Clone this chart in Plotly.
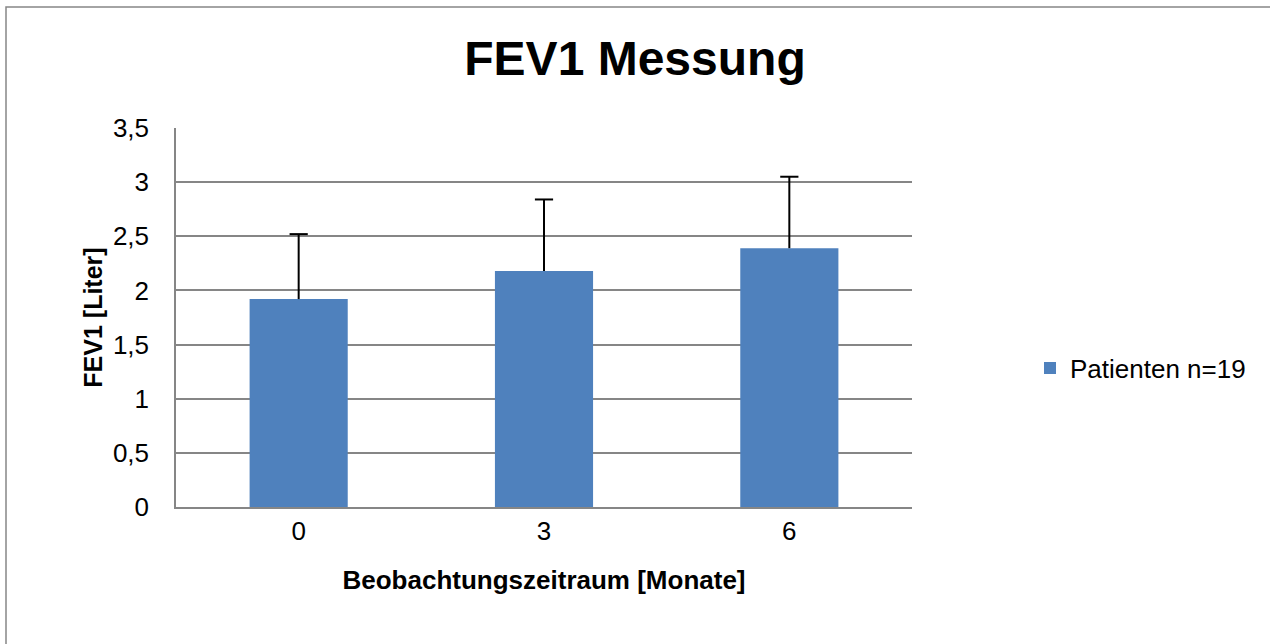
import plotly.graph_objects as go

categories = ["0", "3", "6"]
means = [1.92, 2.18, 2.39]
errors_plus = [0.60, 0.66, 0.66]
y_ticks = [0, 0.5, 1, 1.5, 2, 2.5, 3, 3.5]

fig = go.Figure()
fig.add_trace(go.Bar(
    x=categories, y=means, name="Patienten n=19",
    marker=dict(color="#4F81BD", line=dict(width=0)),
    error_y=dict(type="data", symmetric=False, array=errors_plus,
                 arrayminus=[0] * len(means), color="black",
                 thickness=2, width=0),
))
# caps only at the upper end of the error bars
fig.add_trace(go.Scatter(
    x=categories, y=[m + e for m, e in zip(means, errors_plus)],
    mode="markers", showlegend=False, hoverinfo="skip",
    marker=dict(symbol="line-ew-open", size=13, color="black",
                line=dict(color="black", width=2)),
))

font = "Liberation Sans, Arial, sans-serif"
W, H = 1270, 644
L, T, R, B = 176, 128, 912, 507
PW, PH = R - L, B - T
fig.update_layout(
    width=W, height=H,
    margin=dict(l=L, r=W - R, t=T, b=H - B),
    paper_bgcolor="white", plot_bgcolor="white",
    separators=",.",
    bargap=0.6,
    font=dict(family=font, color="black", size=26),
    title=dict(text="<b>FEV1 Messung</b>", x=0.5, xanchor="center",
               y=1 - 58 / H, yanchor="middle",
               font=dict(size=48, family=font, color="black")),
    showlegend=True,
    legend=dict(x=(1030 - L) / PW, y=(B - 368) / PH, xanchor="left", yanchor="middle",
                font=dict(size=26, family=font), itemwidth=30,
                bgcolor="rgba(0,0,0,0)"),
    xaxis=dict(
        type="category", showgrid=False, showline=True, linecolor="#868686",
        linewidth=2, ticks="", tickfont=dict(size=26),
        title=dict(text="<b>Beobachtungszeitraum [Monate]</b>",
                   font=dict(size=26), standoff=26),
    ),
    yaxis=dict(
        range=[0, 3.5], tickvals=y_ticks, showgrid=True, gridcolor="#868686",
        gridwidth=1.5, showline=True, linecolor="#868686", linewidth=1.5,
        ticks="", zeroline=False, tickfont=dict(size=26), ticklabelstandoff=20,
        title=dict(text="<b>FEV1 [Liter]</b>", font=dict(size=25), standoff=3),
    ),
    shapes=[dict(type="rect", xref="paper", yref="paper",
                 x0=(6 - L) / PW, x1=(1300 - L) / PW,
                 y0=-(H - B + 30) / PH, y1=(B - 7) / PH,
                 line=dict(color="#868686", width=1.5), fillcolor="rgba(0,0,0,0)",
                 layer="below")],
)

fig.write_html("out.html", config={"displayModeBar": False},
               post_script="document.body.style.margin='0px';")
